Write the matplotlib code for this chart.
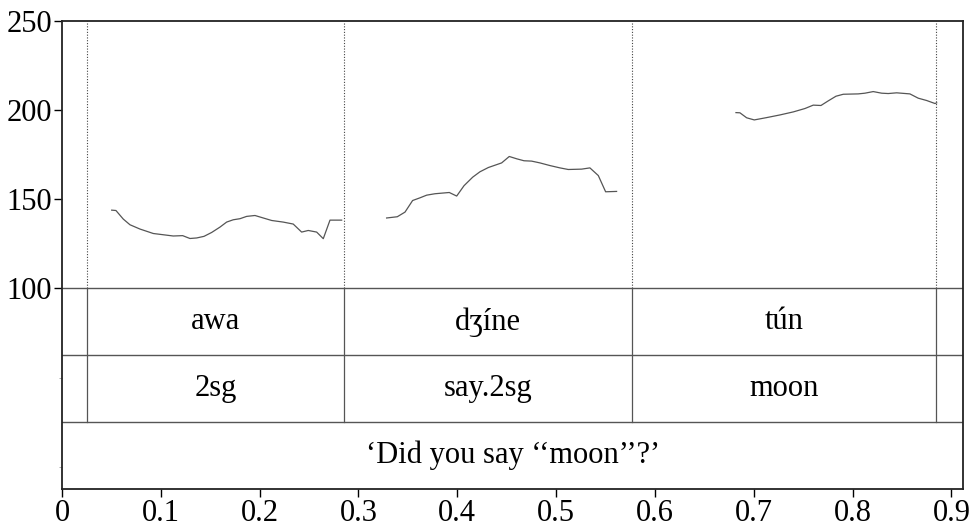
import matplotlib
matplotlib.use("Agg")
import matplotlib.pyplot as plt
from matplotlib.ticker import FuncFormatter

plt.rcParams['font.family'] = ['Liberation Serif', 'DejaVu Serif']

# pitch track (time in s, F0 in Hz), three voiced stretches
t_awa = [0.0503, 0.0546, 0.0620, 0.0688, 0.0789, 0.0924, 0.1025, 0.1126, 0.1221, 0.1295,
         0.1363, 0.1437, 0.1515, 0.1599, 0.1666, 0.1733, 0.1801, 0.1869, 0.1953, 0.2037,
         0.2122, 0.2239, 0.2340, 0.2425, 0.2492, 0.2577, 0.2644, 0.2712, 0.2830]
f0_awa = [143.9, 143.7, 138.9, 135.7, 133.3, 130.8, 130.1, 129.4, 129.6, 128.0,
          128.3, 129.2, 131.4, 134.4, 137.2, 138.5, 139.1, 140.4, 140.9, 139.5,
          138.1, 137.2, 136.1, 131.6, 132.5, 131.6, 127.9, 138.3, 138.3]

t_dzine = [0.3285, 0.3393, 0.3471, 0.3548, 0.3622, 0.3690, 0.3774, 0.3919, 0.3994, 0.4068,
           0.4156, 0.4229, 0.4314, 0.4449, 0.4526, 0.4601, 0.4675, 0.4752, 0.4836, 0.4938,
           0.5039, 0.5123, 0.5258, 0.5342, 0.5427, 0.5501, 0.5612]
f0_dzine = [139.5, 140.2, 142.8, 149.3, 150.8, 152.3, 153.1, 153.8, 151.8, 157.6,
            162.4, 165.4, 167.8, 170.4, 174.0, 172.7, 171.6, 171.4, 170.4, 168.9,
            167.6, 166.7, 166.9, 167.6, 163.3, 154.2, 154.4]

t_tun = [0.6820, 0.6860, 0.6928, 0.7005, 0.7130, 0.7265, 0.7400, 0.7518, 0.7602, 0.7680,
         0.7754, 0.7832, 0.7906, 0.8057, 0.8125, 0.8209, 0.8294, 0.8361, 0.8446, 0.8580,
         0.8664, 0.8749, 0.8834, 0.8851]
f0_tun = [198.6, 198.5, 195.7, 194.5, 195.8, 197.3, 199.0, 200.9, 202.8, 202.6,
          205.2, 207.8, 208.9, 209.1, 209.5, 210.4, 209.5, 209.3, 209.7, 209.1,
          206.7, 205.4, 203.7, 204.1]

# word boundaries and tier labels
boundaries = [0.025, 0.2857, 0.5764, 0.8843]
words = ['awa', 'dʒíne', 'tún']
glosses = ['2sg', 'say.2sg', 'moon']
translation = '‘Did you say ‘‘moon’’?’'

t_end = 0.912
f_min, f_max = 100, 250
tier_h = 37.5

fig = plt.figure(figsize=(9.73, 5.31), dpi=100)
ax = fig.add_axes([0.0637, 0.0791, 0.9263, 0.8814])

for t, f in [(t_awa, f0_awa), (t_dzine, f0_dzine), (t_tun, f0_tun)]:
    ax.plot(t, f, color='#555555', lw=0.9)

# dotted boundary lines over the pitch area
for b in boundaries:
    ax.plot([b, b], [f_min, f_max], color='#444444', lw=0.8, ls=(0, (1, 1.5)))

# text grid tiers
y1 = f_min - tier_h
y2 = f_min - 2 * tier_h
y3 = f_min - 3 * tier_h
for y in [f_min, y1, y2]:
    ax.axhline(y, color='#555555', lw=1.0)
for b in boundaries:
    ax.plot([b, b], [y2, f_min], color='#555555', lw=0.9)

edges = boundaries
for i in range(3):
    xc = (edges[i] + edges[i + 1]) / 2
    ax.text(xc, f_min - tier_h / 2, words[i], ha='center', va='center', fontsize=22)
    ax.text(xc, f_min - 1.5 * tier_h, glosses[i], ha='center', va='center', fontsize=22)
ax.text(t_end / 2, f_min - 2.5 * tier_h, translation, ha='center', va='center', fontsize=22)

ax.set_xlim(0, t_end)
ax.set_ylim(y3, f_max)
ax.set_xticks([0, 0.1, 0.2, 0.3, 0.4, 0.5, 0.6, 0.7, 0.8, 0.9])
ax.xaxis.set_major_formatter(FuncFormatter(lambda v, p: '0' if v == 0 else f'{v:.1f}'))
ax.set_yticks([100, 150, 200, 250])
ax.set_yticks([0, 50], minor=True)
ax.tick_params(axis='both', which='major', direction='out', length=6, width=1.0,
               labelsize=22, pad=1)
ax.tick_params(axis='y', which='minor', direction='out', length=2, width=0.6, color='#999999')
for s in ax.spines.values():
    s.set_linewidth(1.3)
    s.set_color('#222222')

fig.savefig('out.png', dpi=100)
